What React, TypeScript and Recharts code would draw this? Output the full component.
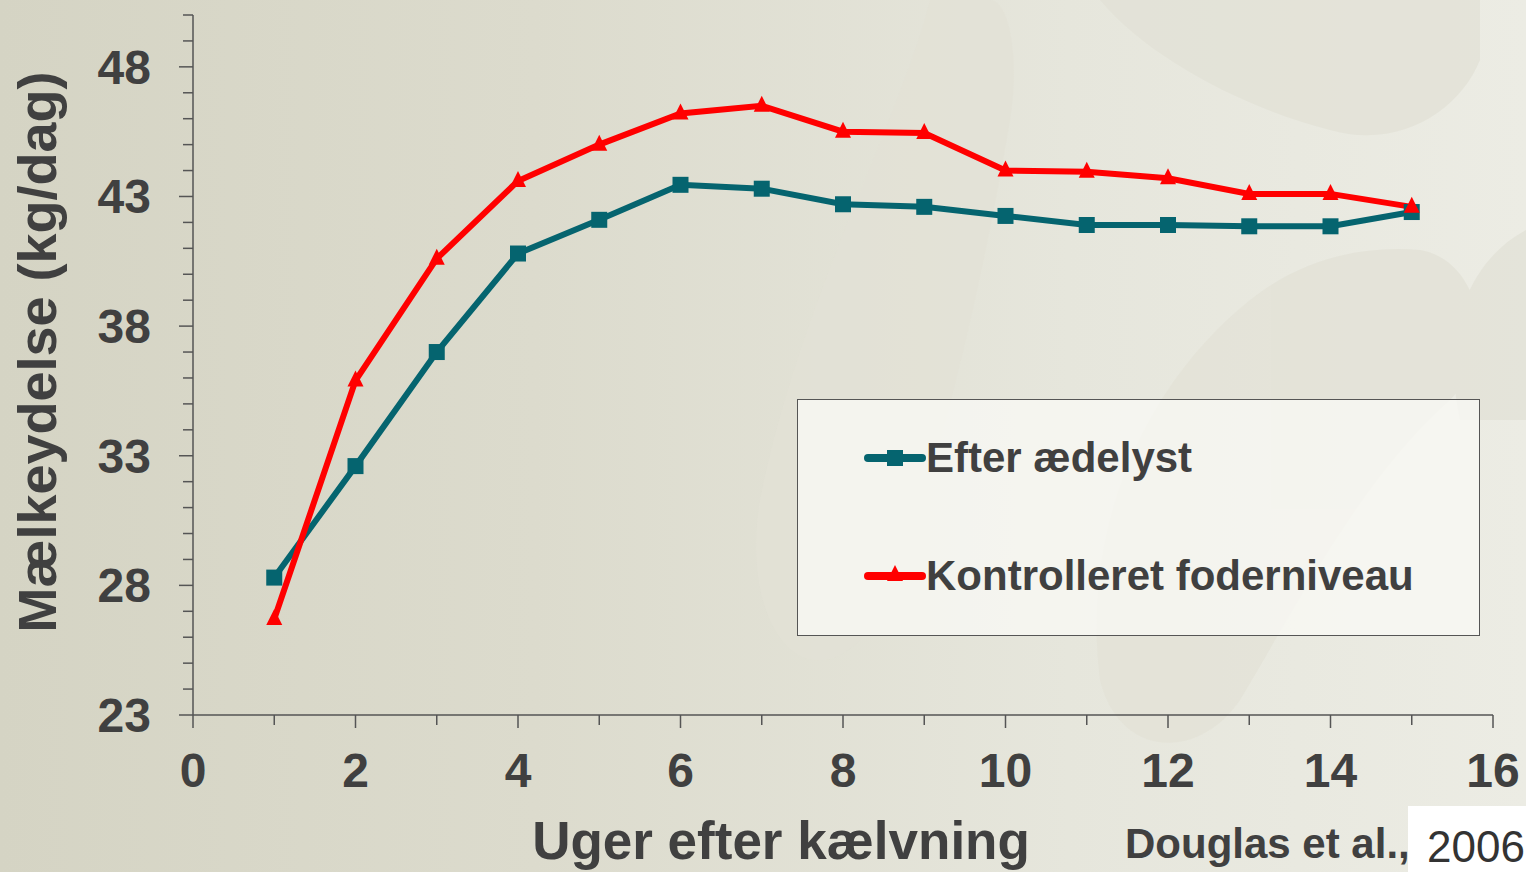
import React from "react";
import { LineChart, Line, XAxis, YAxis, Legend } from "recharts";

const weeks = [1, 2, 3, 4, 5, 6, 7, 8, 9, 10, 11, 12, 13, 14, 15];
const efterAedelyst = [28.3, 32.6, 37.0, 40.8, 42.1, 43.45, 43.3, 42.7, 42.6, 42.25, 41.9, 41.9, 41.85, 41.85, 42.4];
const kontrolleret = [26.7, 35.9, 40.6, 43.6, 45.0, 46.2, 46.5, 45.5, 45.45, 44.0, 43.95, 43.7, 43.1, 43.1, 42.6];

const xTicks = [0, 1, 2, 3, 4, 5, 6, 7, 8, 9, 10, 11, 12, 13, 14, 15, 16];
const yTicks = [23, 24, 25, 26, 27, 28, 29, 30, 31, 32, 33, 34, 35, 36, 37, 38, 39, 40, 41, 42, 43, 44, 45, 46, 47, 48, 49, 50];
const yLabelled = [23, 28, 33, 38, 43, 48];

const seriesNames = ["Efter ædelyst", "Kontrolleret foderniveau"];
const TEAL = "#05646f";
const RED = "#ff0000";
const INK = "#404040";
const FONT = "'Liberation Sans', Arial, sans-serif";

const data = weeks.map((w, i) => ({
  week: w,
  a: efterAedelyst[i],
  b: kontrolleret[i],
}));

const XTick = (props: any) => {
  const { x, y, payload } = props;
  const major = payload.value % 2 === 0;
  return (
    <g>
      <line x1={x} y1={y} x2={x} y2={y + (major ? 13 : 10)} stroke="#555" strokeWidth={1.5} />
      {major && (
        <text x={x} y={y + 72} textAnchor="middle" fontFamily={FONT} fontWeight="bold" fontSize={48} fill={INK}>
          {payload.value}
        </text>
      )}
    </g>
  );
};

const YTick = (props: any) => {
  const { x, y, payload } = props;
  const major = yLabelled.includes(payload.value);
  return (
    <g>
      <line x1={x} y1={y} x2={x - (major ? 14 : 10)} y2={y} stroke="#555" strokeWidth={1.5} />
      {major && (
        <text x={x - 42} y={y + 17} textAnchor="end" fontFamily={FONT} fontWeight="bold" fontSize={48} fill={INK}>
          {payload.value}
        </text>
      )}
    </g>
  );
};

const SquareDot = (props: any) => {
  const { cx, cy } = props;
  if (cx == null || cy == null) return null;
  return <rect x={cx - 8} y={cy - 8} width={16} height={16} fill={TEAL} />;
};

const TriangleDot = (props: any) => {
  const { cx, cy } = props;
  if (cx == null || cy == null) return null;
  return <polygon points={`${cx},${cy - 10} ${cx - 8},${cy + 6} ${cx + 8},${cy + 6}`} fill={RED} />;
};

const LegendBox = () => (
  <div
    style={{
      width: 683,
      height: 237,
      boxSizing: "border-box",
      border: "1.5px solid #555",
      background: "rgba(250,250,246,0.75)",
      fontFamily: FONT,
      fontWeight: "bold",
      fontSize: 42,
      color: INK,
      position: "relative",
    }}
  >
    {[0, 1].map((i) => (
      <div
        key={i}
        style={{ position: "absolute", left: 66, top: i === 0 ? 36 : 154, display: "flex", alignItems: "center", whiteSpace: "nowrap" }}
      >
        <svg width={62} height={44}>
          <line x1={4} y1={22} x2={58} y2={22} stroke={i === 0 ? TEAL : RED} strokeWidth={8} strokeLinecap="round" />
          {i === 0 ? (
            <rect x={23} y={14} width={16} height={16} fill={TEAL} />
          ) : (
            <polygon points="31,11 23,27 39,27" fill={RED} />
          )}
        </svg>
        <span style={{ lineHeight: "44px" }}>{seriesNames[i]}</span>
      </div>
    ))}
  </div>
);

export default function App() {
  return (
    <div
      style={{
        position: "absolute",
        left: 0,
        top: 0,
        width: 1526,
        height: 872,
        overflow: "hidden",
        background: "linear-gradient(90deg, #d5d4c4 0%, #dcdbcd 35%, #e6e6dc 70%, #ecece4 100%)",
      }}
    >
      <svg width={1526} height={872} style={{ position: "absolute", left: 0, top: 0 }}>
        <g fill="#e2e1d6" opacity={0.7}>
          <path d="M930 0 C 900 120, 800 300, 760 500 C 740 620, 800 700, 860 640 C 920 560, 980 300, 1010 120 C 1020 60, 1010 0, 990 0 Z" />
          <path d="M1100 0 C 1150 60, 1250 110, 1330 130 C 1400 150, 1460 110, 1480 60 L 1480 0 Z" />
          <path d="M1250 300 C 1150 380, 1080 520, 1100 680 C 1120 760, 1200 760, 1240 700 C 1300 600, 1360 480, 1450 400 C 1500 350, 1480 260, 1420 250 C 1360 245, 1300 260, 1250 300 Z" />
          <path d="M1526 230 C 1470 260, 1440 330, 1460 420 L 1526 420 Z" />
        </g>
      </svg>
      <div style={{ position: "absolute", left: 0, top: 0 }}>
        <LineChart width={1526} height={872} data={data} margin={{ top: 15, right: 33, bottom: 0, left: 0 }}>
          <XAxis
            dataKey="week"
            type="number"
            domain={[0, 16]}
            ticks={xTicks}
            interval={0}
            tickSize={0}
            tickMargin={0}
            tickLine={false}
            tick={<XTick />}
            axisLine={{ stroke: "#555", strokeWidth: 1.5 }}
            height={157}
          />
          <YAxis
            type="number"
            domain={[23, 50]}
            ticks={yTicks}
            interval={0}
            tickSize={0}
            tickMargin={0}
            tickLine={false}
            tick={<YTick />}
            axisLine={{ stroke: "#555", strokeWidth: 1.5 }}
            width={193}
            allowDataOverflow
          />
          <Legend
            layout="vertical"
            align="center"
            verticalAlign="middle"
            content={() => <LegendBox />}
            wrapperStyle={{ position: "absolute", left: 797, top: 399, width: 683, height: 237 }}
          />
          <Line
            dataKey="a"
            name={seriesNames[0]}
            stroke={TEAL}
            strokeWidth={6}
            dot={<SquareDot />}
            activeDot={false}
            isAnimationActive={false}
          />
          <Line
            dataKey="b"
            name={seriesNames[1]}
            stroke={RED}
            strokeWidth={6}
            dot={<TriangleDot />}
            activeDot={false}
            isAnimationActive={false}
          />
        </LineChart>
      </div>
      <svg width={1526} height={872} style={{ position: "absolute", left: 0, top: 0, pointerEvents: "none" }}>
        <text
          transform="translate(56 352) rotate(-90)"
          textAnchor="middle"
          fontFamily={FONT}
          fontWeight="bold"
          fontSize={54}
          fill={INK}
        >
          Mælkeydelse (kg/dag)
        </text>
        <text x={781} y={859} textAnchor="middle" fontFamily={FONT} fontWeight="bold" fontSize={53} fill={INK}>
          Uger efter kælvning
        </text>
        <text x={1125} y={858} fontFamily={FONT} fontWeight="bold" fontSize={42} fill={INK}>
          Douglas et al.,
        </text>
        <rect x={1408} y={806} width={118} height={66} fill="#ffffff" />
        <text x={1427} y={862} fontFamily={FONT} fontSize={44} fill="#333">
          2006
        </text>
      </svg>
    </div>
  );
}
